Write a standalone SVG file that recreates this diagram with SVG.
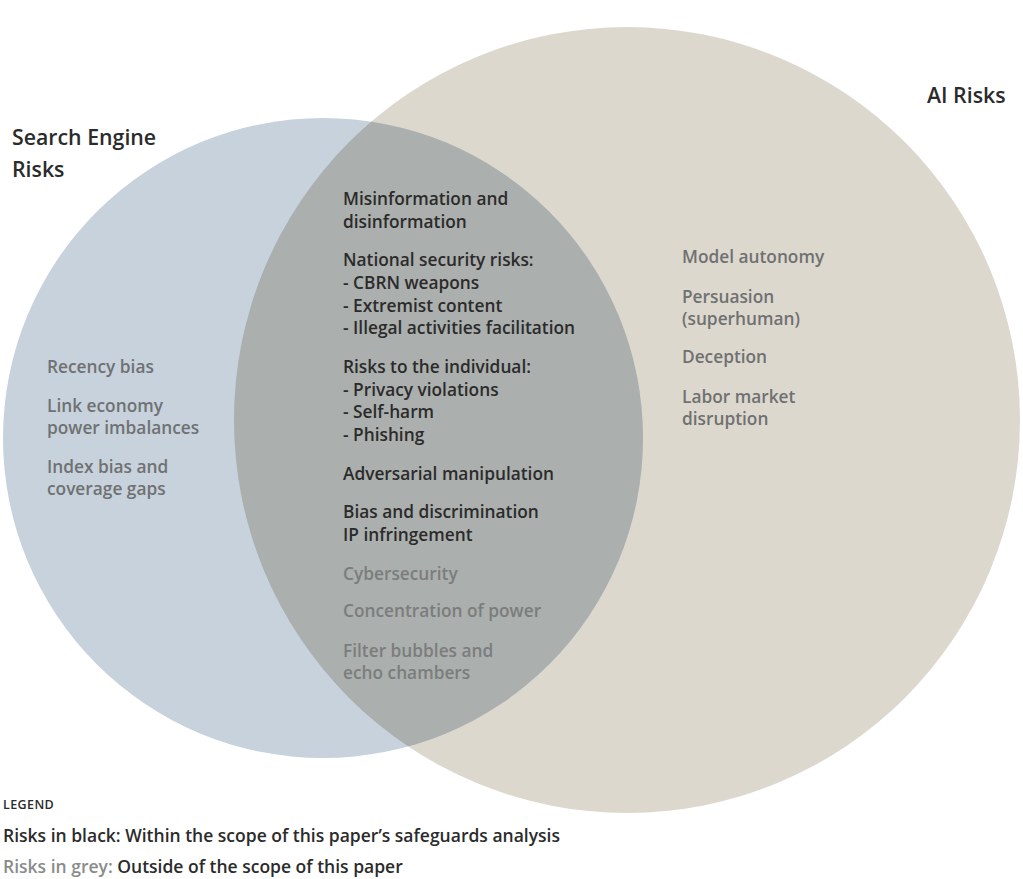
<svg xmlns="http://www.w3.org/2000/svg" width="1023" height="879" viewBox="0 0 1023 879">
<style>
text{font-family:"Open Sans","Noto Sans","Liberation Sans",sans-serif;font-weight:600;}
.t{font-size:17.3px;}
.dk{fill:#2b2b2b;}
.gr{fill:#6f7172;}
.gl{fill:#7b7d7d;}
.title{font-size:21.3px;fill:#2b2b2b;}
.leg{font-size:17.5px;}
</style>
<defs>
<clipPath id="clipLeft"><circle cx="323" cy="438" r="320"/></clipPath>
</defs>
<rect width="1023" height="879" fill="#ffffff"/>
<g id="ai-risks">
<circle cx="627" cy="420" r="393" fill="#ddd8cd"/>
</g>
<g id="search-engine-risks">
<circle cx="323" cy="438" r="320" fill="#c7d2dc"/>
</g>
<g id="overlap">
<circle cx="627" cy="420" r="393" fill="#abafad" clip-path="url(#clipLeft)"/>
</g>
<g id="connectors"></g>
<g id="labels-titles">
<text class="title" x="12" y="145">Search Engine</text>
<text class="title" x="12" y="177">Risks</text>
<text class="title" x="927" y="103">AI Risks</text>
</g>
<g id="search-only" class="t gr">
<text x="47" y="373">Recency bias</text>
<text x="47" y="412">Link economy</text>
<text x="47" y="434">power imbalances</text>
<text x="47" y="473">Index bias and</text>
<text x="47" y="495">coverage gaps</text>
</g>
<g id="ai-only" class="t gr">
<text x="682" y="263">Model autonomy</text>
<text x="682" y="303">Persuasion</text>
<text x="682" y="325">(superhuman)</text>
<text x="682" y="363">Deception</text>
<text x="682" y="403">Labor market</text>
<text x="682" y="425">disruption</text>
</g>
<g id="shared" class="t">
<text class="dk" x="343" y="205">Misinformation and</text>
<text class="dk" x="343" y="228">disinformation</text>
<text class="dk" x="343" y="266">National security risks:</text>
<text class="dk" x="343" y="289">- CBRN weapons</text>
<text class="dk" x="343" y="312">- Extremist content</text>
<text class="dk" x="343" y="334">- Illegal activities facilitation</text>
<text class="dk" x="343" y="373">Risks to the individual:</text>
<text class="dk" x="343" y="396">- Privacy violations</text>
<text class="dk" x="343" y="418">- Self-harm</text>
<text class="dk" x="343" y="441">- Phishing</text>
<text class="dk" x="343" y="480">Adversarial manipulation</text>
<text class="dk" x="343" y="518">Bias and discrimination</text>
<text class="dk" x="343" y="541">IP infringement</text>
<text class="gl" x="343" y="580">Cybersecurity</text>
<text class="gl" x="343" y="617">Concentration of power</text>
<text class="gl" x="343" y="657">Filter bubbles and</text>
<text class="gl" x="343" y="679">echo chambers</text>
</g>
<g id="legend">
<text x="3" y="809" font-size="12.5" fill="#2b2b2b" letter-spacing="0.4">LEGEND</text>
<text class="leg" x="3" y="842" fill="#2b2b2b">Risks in black: Within the scope of this paper’s safeguards analysis</text>
<text class="leg" x="3" y="873"><tspan fill="#8a8c8c">Risks in grey:</tspan><tspan fill="#2b2b2b"> Outside of the scope of this paper</tspan></text>
</g>
</svg>
